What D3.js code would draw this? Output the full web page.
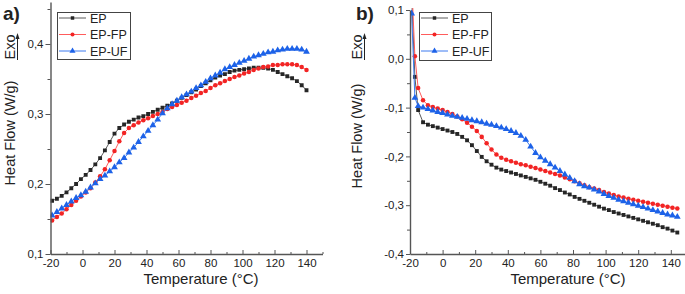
<!DOCTYPE html>
<html>
<head>
<meta charset="utf-8">
<script src="https://cdn.jsdelivr.net/npm/d3@7"></script>
<style>
  body { margin: 0; background: #fff; }
  text { font-family: "Liberation Sans", Arial, sans-serif; fill: #222; }
</style>
</head>
<body>
<div id="chart"></div>
<script>
const seriesNames = ['EP', 'EP-FP', 'EP-UF']

// panel a) temperatures and heat flow
const tempA = [-19, -16, -13, -10, -7, -4, -1, 2, 5, 8, 11, 14, 17, 20, 23, 26, 29, 32, 35, 38, 41, 44, 47, 50, 53, 56, 59, 62, 65, 68, 71, 74, 77, 80, 83, 86, 89, 92, 95, 98, 101, 104, 107, 110, 113, 116, 119, 122, 125, 128, 131, 134, 137, 140]
const epA = [0.176, 0.179, 0.183, 0.188, 0.194, 0.200, 0.207,
  0.213, 0.220, 0.228, 0.237, 0.248, 0.260, 0.272, 0.280, 0.285, 0.289,
  0.292, 0.295, 0.297, 0.300, 0.303, 0.306, 0.309, 0.312, 0.315, 0.319,
  0.323, 0.327, 0.331, 0.335, 0.340, 0.344, 0.348, 0.352, 0.355, 0.357,
  0.360, 0.362, 0.363, 0.364, 0.365, 0.366, 0.366, 0.366, 0.365, 0.363,
  0.360, 0.357, 0.354, 0.351, 0.347, 0.341, 0.334]
const fpA = [0.148, 0.153, 0.158, 0.164, 0.170, 0.176, 0.182,
  0.188, 0.194, 0.202, 0.211, 0.221, 0.234, 0.247, 0.261, 0.273, 0.280,
  0.284, 0.288, 0.291, 0.294, 0.297, 0.300, 0.303, 0.307, 0.310, 0.313,
  0.316, 0.319, 0.323, 0.326, 0.330, 0.333, 0.337, 0.341, 0.344, 0.347,
  0.350, 0.353, 0.355, 0.358, 0.360, 0.363, 0.365, 0.367, 0.368, 0.370,
  0.370, 0.371, 0.371, 0.371, 0.370, 0.367, 0.363]
const ufA = [0.155, 0.160, 0.165, 0.170, 0.175, 0.180, 0.184,
  0.189, 0.195, 0.201, 0.207, 0.212, 0.218, 0.224, 0.231, 0.237, 0.245,
  0.252, 0.260, 0.268, 0.276, 0.284, 0.292, 0.301, 0.308, 0.314, 0.319,
  0.324, 0.328, 0.332, 0.337, 0.341, 0.346, 0.351, 0.355, 0.359, 0.364,
  0.367, 0.370, 0.373, 0.376, 0.379, 0.382, 0.384, 0.386, 0.388, 0.389,
  0.391, 0.392, 0.393, 0.393, 0.393, 0.392, 0.389]

// panel b)
const tempB = [-19, -17, -15, -12, -9, -6, -3, 0, 3, 6, 9, 12, 15, 18, 21, 24, 27, 30, 33, 36, 39, 42, 45, 48, 51, 54, 57, 60, 63, 66, 69, 72, 75, 78, 81, 84, 87, 90, 93, 96, 99, 102, 105, 108, 111, 114, 117, 120, 123, 126, 129, 132, 135, 138, 141, 144]
const epB = [0.13, -0.037, -0.105, -0.130,
  -0.135, -0.138, -0.141, -0.144, -0.147, -0.150, -0.154, -0.160, -0.167, -0.177,
  -0.189, -0.201, -0.210, -0.217, -0.223, -0.227, -0.230, -0.233, -0.236, -0.239,
  -0.242, -0.245, -0.248, -0.252, -0.256, -0.260, -0.265, -0.269, -0.274, -0.278,
  -0.283, -0.287, -0.291, -0.295, -0.299, -0.303, -0.307, -0.310, -0.314, -0.317,
  -0.320, -0.323, -0.326, -0.329, -0.332, -0.335, -0.338, -0.341, -0.345, -0.348,
  -0.352, -0.356]
const fpB = [0.16, 0.005, -0.060, -0.085,
  -0.095, -0.099, -0.102, -0.105, -0.109, -0.113, -0.118, -0.124, -0.131, -0.139,
  -0.148, -0.160, -0.173, -0.186, -0.196, -0.203, -0.207, -0.210, -0.213, -0.216,
  -0.218, -0.221, -0.224, -0.227, -0.230, -0.233, -0.236, -0.239, -0.243, -0.247,
  -0.251, -0.255, -0.259, -0.263, -0.266, -0.269, -0.273, -0.276, -0.279, -0.282,
  -0.284, -0.287, -0.289, -0.291, -0.293, -0.295, -0.297, -0.299, -0.301, -0.303,
  -0.305, -0.307]
const ufB = [0.093, -0.080, -0.097, -0.100,
  -0.103, -0.106, -0.109, -0.111, -0.114, -0.117, -0.119, -0.121, -0.123, -0.126,
  -0.128, -0.130, -0.133, -0.135, -0.138, -0.141, -0.144, -0.148, -0.152, -0.158,
  -0.166, -0.180, -0.193, -0.202, -0.209, -0.216, -0.223, -0.230, -0.237, -0.244,
  -0.251, -0.257, -0.261, -0.264, -0.268, -0.272, -0.277, -0.281, -0.285, -0.289,
  -0.292, -0.295, -0.298, -0.301, -0.304, -0.307, -0.310, -0.313, -0.316, -0.319,
  -0.321, -0.324]

// ticks
const xTicks = [-20, 0, 20, 40, 60, 80, 100, 120, 140]
const xMinor = [-10, 10, 30, 50, 70, 90, 110, 130, 150]
const yTicksA = [0.1, 0.2, 0.3, 0.4]
const yMinorA = [0.15, 0.25, 0.35, 0.45]
const yTicksB = [-0.4, -0.3, -0.2, -0.1, 0, 0.1]
const yMinorB = [-0.35, -0.25, -0.15, -0.05, 0.05]

const markerColors = ['#262626', '#f22424', '#1d62e8']
const lineColors = ['#5a5a5a', '#ff5c5c', '#3d7bf0']
const markerShapes = [d3.symbolSquare, d3.symbolCircle, d3.symbolTriangle]
const markerSizes = [15, 16, 20]

// comma decimals and a plain hyphen for negatives, as in the figure
const locale = d3.formatLocale({ decimal: ',', thousands: '.', grouping: [3], currency: ['', ''], minus: '-' })
const fmtY = locale.format('.1f')
const fmtX = locale.format('d')

const svg = d3.select('#chart').append('svg')
  .attr('width', 685)
  .attr('height', 294)

const panels = [
  {
    id: 'a', label: 'a)', temps: tempA, series: [epA, fpA, ufA],
    x: [50.5, 322.5], y: [254, 2], yDomain: [0.1, 0.46],
    yTicks: yTicksA, yMinor: yMinorA, tickLen: 5, tickPad: 2,
    labelX: 3, titleX: 201, yTitleX: 15, clipTop: 0, yTitleY: 133,
    legend: { x: 57, y: 12, w: 73, h: 47, lineX: [59, 86], textX: 90 }
  },
  {
    id: 'b', label: 'b)', temps: tempB, series: [epB, fpB, ufB],
    x: [410, 687.1], y: [254, 10], yDomain: [-0.4, 0.1],
    yTicks: yTicksB, yMinor: yMinorB, tickLen: 4, tickPad: 2,
    labelX: 356, titleX: 568, yTitleX: 362, clipTop: 8, yTitleY: 136,
    legend: { x: 419, y: 12, w: 72, h: 48, lineX: [421, 448], textX: 452 }
  }
]

panels.forEach(p => {
  const x = d3.scaleLinear().domain([-20, 150]).range(p.x)
  const y = d3.scaleLinear().domain(p.yDomain).range(p.y)

  // clip for the curves
  svg.append('clipPath').attr('id', 'clip-' + p.id)
    .append('rect')
    .attr('x', p.x[0]).attr('y', p.clipTop)
    .attr('width', p.x[1] - p.x[0]).attr('height', p.y[0] - p.clipTop)

  const plot = svg.append('g').attr('clip-path', `url(#clip-${p.id})`)

  p.series.forEach((vals, i) => {
    const pts = p.temps.map((t, k) => [t, vals[k]])
    plot.append('path')
      .datum(pts)
      .attr('fill', 'none')
      .attr('stroke', lineColors[i])
      .attr('stroke-width', 1)
      .attr('d', d3.line().x(d => x(d[0])).y(d => y(d[1])))
    plot.selectAll('.m' + i)
      .data(pts)
      .join('path')
      .attr('class', 'm' + i)
      .attr('transform', d => `translate(${x(d[0])},${y(d[1])})`)
      .attr('fill', markerColors[i])
      .attr('d', d3.symbol().type(markerShapes[i]).size(markerSizes[i]))
  })

  // axes
  const xAxis = svg.append('g').attr('transform', `translate(0,${p.y[0]})`)
    .call(d3.axisBottom(x).tickValues(xTicks).tickSizeInner(-4).tickSizeOuter(0).tickPadding(5).tickFormat(fmtX))
  svg.append('g').attr('transform', `translate(0,${p.y[0]})`)
    .call(d3.axisBottom(x).tickValues(xMinor).tickSize(-2).tickFormat(''))
    .call(g => g.select('.domain').remove())

  const yAxis = svg.append('g').attr('transform', `translate(${p.x[0]},0)`)
    .call(d3.axisLeft(y).tickValues(p.yTicks).tickSizeInner(p.tickLen).tickSizeOuter(0).tickPadding(p.tickPad).tickFormat(fmtY))
  svg.append('g').attr('transform', `translate(${p.x[0]},0)`)
    .call(d3.axisLeft(y).tickValues(p.yMinor).tickSize(3).tickFormat(''))
    .call(g => g.select('.domain').remove())

  ;[xAxis, yAxis].forEach(g => {
    g.selectAll('text').attr('font-size', 11.5).attr('fill', '#222')
      .style('font-family', '"Liberation Sans", Arial, sans-serif')
  })
  svg.selectAll('.domain').attr('stroke', '#555').attr('stroke-width', 1.4)
  svg.selectAll('.tick line').attr('stroke', '#555')

  // titles
  svg.append('text')
    .attr('x', p.titleX).attr('y', 284)
    .attr('text-anchor', 'middle')
    .attr('font-size', 15)
    .text('Temperature (°C)')

  svg.append('text')
    .attr('transform', `translate(${p.yTitleX},${p.yTitleY}) rotate(-90)`)
    .attr('text-anchor', 'middle')
    .attr('font-size', 14.5)
    .text('Heat Flow (W/g)')

  svg.append('text')
    .attr('transform', `translate(${p.yTitleX},47) rotate(-90)`)
    .attr('text-anchor', 'middle')
    .attr('font-size', 14.5)
    .text('Exo')
  // exo arrow
  const ax = p.yTitleX + 2.5
  svg.append('line')
    .attr('x1', ax).attr('x2', ax).attr('y1', 60).attr('y2', 37)
    .attr('stroke', '#222').attr('stroke-width', 1)
  svg.append('path')
    .attr('d', `M${ax},33 L${ax - 2},39 L${ax + 2},39 Z`)
    .attr('fill', '#222')

  svg.append('text')
    .attr('x', p.labelX).attr('y', 20)
    .attr('font-size', 19)
    .attr('font-weight', 'bold')
    .text(p.label)

  // legend
  const lg = p.legend
  const leg = svg.append('g')
  leg.append('rect')
    .attr('x', lg.x + 0.5).attr('y', lg.y + 0.5)
    .attr('width', lg.w).attr('height', lg.h)
    .attr('fill', '#fff').attr('stroke', '#444').attr('stroke-width', 1)
  seriesNames.forEach((name, i) => {
    const ly = lg.y + 6 + i * 16.5
    leg.append('line')
      .attr('x1', lg.lineX[0]).attr('x2', lg.lineX[1])
      .attr('y1', ly).attr('y2', ly)
      .attr('stroke', lineColors[i]).attr('stroke-width', 1)
    leg.append('path')
      .attr('transform', `translate(${(lg.lineX[0] + lg.lineX[1]) / 2},${ly})`)
      .attr('fill', markerColors[i])
      .attr('d', d3.symbol().type(markerShapes[i]).size(markerSizes[i] * 0.8))
    leg.append('text')
      .attr('x', lg.textX).attr('y', ly + 4.5)
      .attr('font-size', 12.5)
      .text(name)
  })
})
</script>
</body>
</html>
